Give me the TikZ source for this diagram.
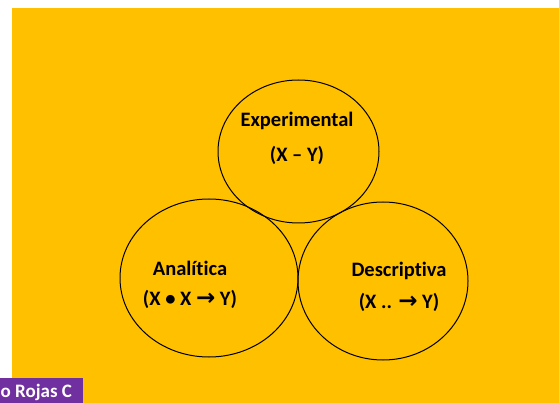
\documentclass[tikz,border=0pt]{standalone}
\usepackage{fontspec}
\setmainfont[Ligatures=NoCommon]{Carlito}
\newfontfamily\arrowfont{DejaVu Sans}
\usetikzlibrary{shapes.geometric}
\definecolor{bgyellow}{HTML}{FFC000}
\definecolor{tagpurple}{HTML}{7030A0}
\newcommand{\rarr}{{\arrowfont\fontsize{23}{24}\selectfont\bfseries\raisebox{-0.5pt}{→}}}
\begin{document}
\begin{tikzpicture}[x=1pt, y=-1pt,
                    area/.style={draw=black, line width=1pt, ellipse, inner sep=0pt},
                    lbl/.style={font=\fontsize{20.5}{24}\selectfont\bfseries, text=black, inner sep=0pt}]
    \useasboundingbox (0,0) rectangle (559,403);
    \fill[white] (0,0) rectangle (559,403);
    \fill[bgyellow] (12,8) rectangle (559,403);
    % three circles
    \foreach \n/\x/\y/\w/\h in {exp/298.5/151.5/161/143, ana/209/278/178/158, des/383/281/170/158}{
        \node[area, minimum width=\w pt, minimum height=\h pt] (\n) at (\x, \y) {};
    }
    \node[lbl] (expname) at (297,121) {Experimental};
    \node[lbl] (expform) at (297,155) {(X – Y)};
    \node[lbl] (ananame) at (190,268) {Analítica};
    \node[lbl] (anaform) at (190,299) {(X • X \rarr{} Y)};
    \node[lbl] (desname) at (399,271) {Descriptiva};
    \node[lbl] (desform) at (399,302) {(X .. \rarr{} Y)};
    % author tag
    \fill[tagpurple] (0,378) rectangle (83,403);
    \node[lbl, font=\fontsize{19}{22}\selectfont\bfseries, text=white, anchor=west] (tag) at (0.5,392) {o Rojas C};
\end{tikzpicture}
\end{document}
